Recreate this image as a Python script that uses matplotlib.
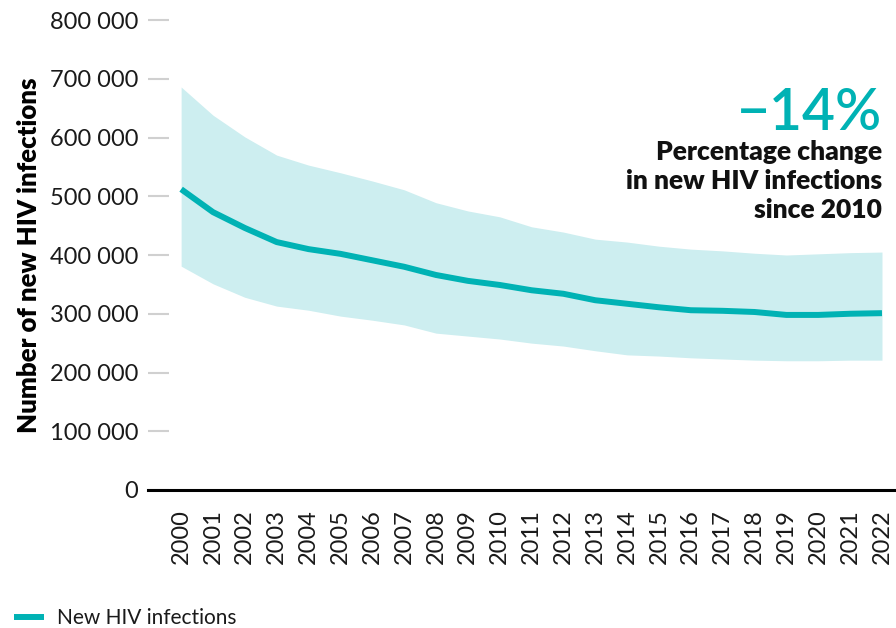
import matplotlib
matplotlib.use("Agg")
import matplotlib.pyplot as plt
from matplotlib.ticker import FuncFormatter

plt.rcParams['font.family'] = ['Lato', 'DejaVu Sans']

years = list(range(2000, 2023))
new_infections = [512000, 473000, 446000, 422000, 410000, 402000, 391000, 380000,
                  366000, 356000, 349000, 340000, 334000, 323000, 317000, 311000,
                  306000, 305000, 303000, 298000, 298000, 300000, 301000]
upper_bound = [686000, 638000, 601000, 570000, 553000, 540000, 526000, 511000,
               489000, 475000, 465000, 448000, 439000, 427000, 422000, 415000,
               410000, 407000, 403000, 400000, 402000, 404000, 405000]
lower_bound = [381000, 351000, 328000, 313000, 306000, 296000, 289000, 281000,
               267000, 262000, 257000, 250000, 245000, 237000, 230000, 228000,
               225000, 223000, 221000, 220000, 220000, 221000, 221000]
y_ticks = [0, 100000, 200000, 300000, 400000, 500000, 600000, 700000, 800000]

teal = '#00B2B4'
band = '#CDEEF0'

fig = plt.figure(figsize=(8.96, 6.28), dpi=100)
ax = fig.add_axes([148 / 896, 1 - 490 / 628, 748 / 896, 470 / 628])

ax.fill_between(years, lower_bound, upper_bound, color=band, linewidth=0)
line, = ax.plot(years, new_infections, color=teal, linewidth=4.3,
                solid_capstyle='butt', label='New HIV infections')

ax.set_xlim(1998.96, 2022.44)
ax.set_ylim(0, 800000)
ax.set_yticks(y_ticks)
ax.yaxis.set_major_formatter(FuncFormatter(lambda v, p: f"{int(v):,}".replace(',', ' ')))
ax.set_xticks(years)
ax.set_xticklabels([str(y) for y in years], rotation=90)

for s in ['top', 'right', 'left']:
    ax.spines[s].set_visible(False)
ax.spines['bottom'].set_color('black')
ax.spines['bottom'].set_linewidth(2.2)

ax.tick_params(axis='y', direction='in', length=15, width=1.5, color='#d0d0d0',
               pad=7, labelsize=17, labelcolor='#1a1a1a')
ax.tick_params(axis='x', length=0, pad=14, labelsize=17, labelcolor='#1a1a1a')

ax.set_ylabel('Number of new HIV infections', fontsize=18.5, fontweight='heavy',
              labelpad=6)

fig.text(882 / 896, 1 - 113 / 628, '\u221214%', color=teal, fontsize=41,
         fontweight='semibold', ha='right', va='center')
fig.text(882 / 896, 1 - 181 / 628,
         'Percentage change\nin new HIV infections\nsince 2010',
         fontsize=19, fontweight='heavy', ha='right', va='center',
         linespacing=1.27, color='#111111')

fig.legend(handles=[line], loc='center left',
           bbox_to_anchor=(14 / 896, 1 - 618 / 628),
           borderpad=0, borderaxespad=0,
           frameon=False, fontsize=15, handlelength=1.45, handletextpad=0.6,
           labelcolor='#1a1a1a')

fig.savefig('out.png', dpi=100)
